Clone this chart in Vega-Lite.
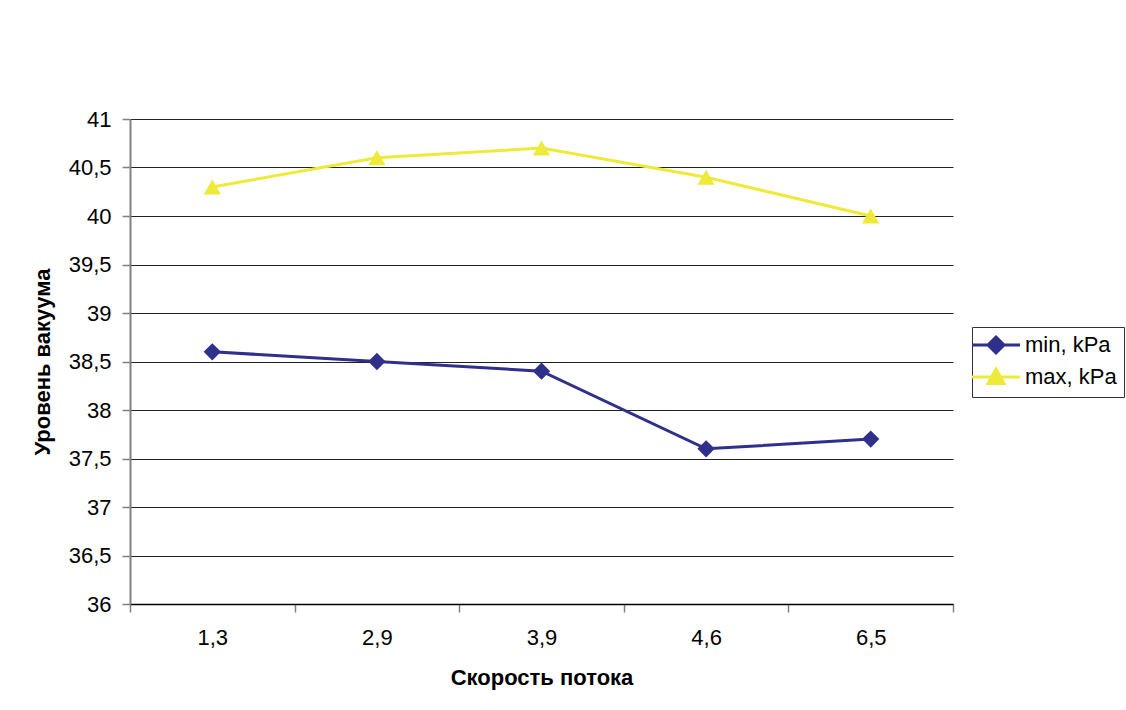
{
  "$schema": "https://vega.github.io/schema/vega-lite/v6.json",
  "width": 823,
  "height": 485,
  "autosize": {"type": "none"},
  "padding": {"left": 130, "top": 119, "right": 173, "bottom": 106},
  "background": "white",
  "config": {"view": {"stroke": null}, "font": "Liberation Sans"},
  "data": {"values": [
    {"speed": "1,3", "series": "min, kPa", "vacuum": 38.6},
    {"speed": "2,9", "series": "min, kPa", "vacuum": 38.5},
    {"speed": "3,9", "series": "min, kPa", "vacuum": 38.4},
    {"speed": "4,6", "series": "min, kPa", "vacuum": 37.6},
    {"speed": "6,5", "series": "min, kPa", "vacuum": 37.7},
    {"speed": "1,3", "series": "max, kPa", "vacuum": 40.3},
    {"speed": "2,9", "series": "max, kPa", "vacuum": 40.6},
    {"speed": "3,9", "series": "max, kPa", "vacuum": 40.7},
    {"speed": "4,6", "series": "max, kPa", "vacuum": 40.4},
    {"speed": "6,5", "series": "max, kPa", "vacuum": 40.0}
  ]},
  "encoding": {
    "x": {
      "field": "speed", "type": "ordinal",
      "sort": ["1,3", "2,9", "3,9", "4,6", "6,5"],
      "scale": {"type": "band", "paddingInner": 0, "paddingOuter": 0},
      "axis": {
        "title": "Скорость потока", "titleFont": "Liberation Sans", "titleFontSize": 22, "titleFontWeight": "bold", "titleColor": "black", "titlePadding": 19,
        "labelAngle": 0, "labelFont": "Liberation Sans", "labelFontSize": 22, "labelColor": "black", "labelPadding": 15,
        "tickBand": "extent", "tickSize": 8, "tickColor": "#808080", "tickWidth": 1.5,
        "domainColor": "black", "domainWidth": 1.5, "grid": false
      }
    },
    "y": {
      "field": "vacuum", "type": "quantitative",
      "scale": {"domain": [36, 41], "zero": false, "nice": false},
      "axis": {
        "title": "Уровень вакуума", "titleFont": "Liberation Sans", "titleFontSize": 22, "titleFontWeight": "bold", "titleColor": "black", "titlePadding": 14,
        "values": [36, 36.5, 37, 37.5, 38, 38.5, 39, 39.5, 40, 40.5, 41],
        "labelExpr": "replace(toString(datum.value), '.', ',')",
        "labelFont": "Liberation Sans", "labelFontSize": 22, "labelColor": "black", "labelPadding": 11,
        "tickSize": 8, "tickColor": "#808080", "tickWidth": 1.5,
        "domainColor": "#808080", "domainWidth": 2,
        "grid": true, "gridColor": "#222222", "gridOpacity": 1, "gridWidth": 1
      }
    },
    "color": {
      "field": "series", "type": "nominal",
      "scale": {"domain": ["min, kPa", "max, kPa"], "range": ["#2F2F8C", "#EEEA3A"]},
      "legend": {
        "title": null, "orient": "none", "legendX": 842, "legendY": 208,
        "strokeColor": "#333333", "padding": 7,
        "labelFont": "Liberation Sans", "labelFontSize": 22, "labelColor": "black",
        "symbolSize": 256, "labelOffset": 18, "rowPadding": 4,
        "symbolStrokeWidth": 3, "symbolOffset": 6, "symbolOpacity": 1
      }
    }
  },
  "layer": [
    {"mark": {"type": "line", "strokeWidth": 3}},
    {
      "transform": [{"filter": "datum.series === 'min, kPa'"}],
      "mark": {"type": "point", "filled": true, "opacity": 1, "size": 300, "shape": "diamond"}
    },
    {
      "transform": [{"filter": "datum.series === 'max, kPa'"}],
      "mark": {"type": "point", "filled": true, "opacity": 1, "size": 300, "shape": "triangle-up"}
    },
    {
      "transform": [{"filter": "false"}],
      "mark": {"type": "point", "filled": true, "opacity": 1},
      "encoding": {
        "shape": {
          "field": "series", "type": "nominal",
          "scale": {"domain": ["min, kPa", "max, kPa"], "range": ["M-3,0H3M0,-1L1,0L0,1L-1,0Z", "M-3,0H3M0,-1L1,0.8L-1,0.8Z"]}
        },
        "stroke": {
          "field": "series", "type": "nominal",
          "scale": {"domain": ["min, kPa", "max, kPa"], "range": ["#2F2F8C", "#EEEA3A"]}
        }
      }
    }
  ]
}
